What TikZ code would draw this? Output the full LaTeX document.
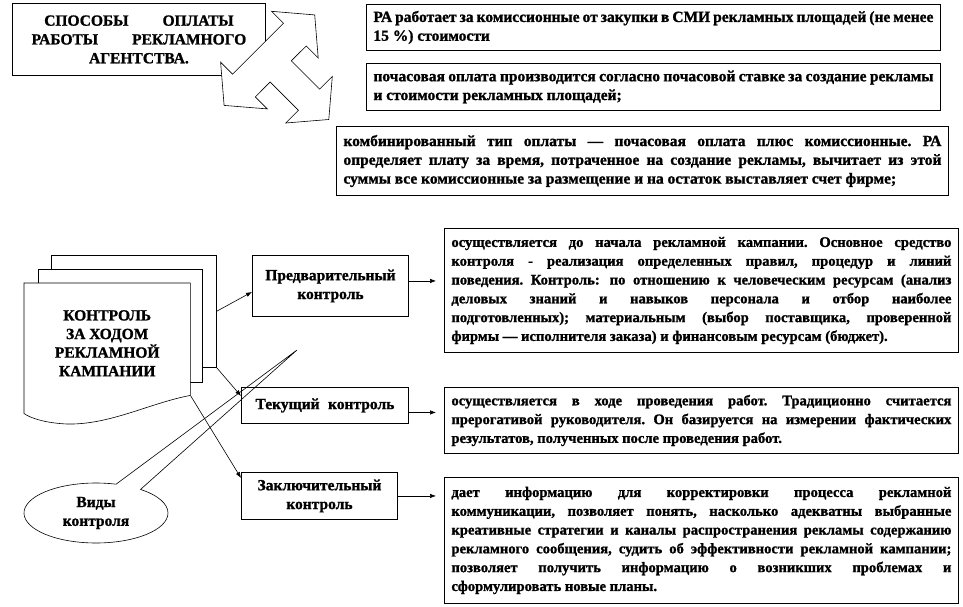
\documentclass[tikz,border=0pt]{standalone}
\usepackage{fontspec}
\setmainfont{Liberation Serif}[BoldFeatures={FakeBold=1.2}]
\usetikzlibrary{arrows.meta, calc, shapes.callouts}
\frenchspacing

\begin{document}
\begin{tikzpicture}[x=1pt, y=-1pt, >={Latex[length=6pt,width=4.5pt]},
  box/.style={draw, line width=0.9pt, anchor=north west, inner xsep=7pt, inner ysep=0pt,
    font=\fontsize{15.5}{18.8}\selectfont\bfseries},
  txt/.style={box, align=justify},
  kind/.style={box, align=center},
  side/.style={txt, text width=500pt, minimum width=513pt,
    font=\fontsize{14.6}{18.8}\selectfont\bfseries},
  page/.style={draw, fill=white, line width=0.6pt, anchor=north west},
  link/.style={->, line width=0.6pt}]
  \useasboundingbox (0,0) rectangle (963,606);

  % способы оплаты
  \node[kind, minimum width=253pt, minimum height=72pt] (head) at (12,3)
    {СПОСОБЫ\hspace{2.2em}ОПЛАТЫ\\РАБОТЫ\hspace{2.2em}РЕКЛАМНОГО\\АГЕНТСТВА.};
  \node[txt, text width=560pt, minimum width=574pt, minimum height=46pt] (rab) at (366,4)
    {РА работает за комиссионные от закупки в СМИ рекламных площадей (не менее\linebreak
     15 \%) стоимости};
  \node[txt, text width=560pt, minimum width=574pt, minimum height=47pt] (pochas) at (366,63)
    {почасовая оплата производится согласно почасовой ставке за создание рекламы\linebreak
     и стоимости рекламных площадей;};
  \node[txt, text width=598pt, minimum width=612pt, minimum height=69pt] (komb) at (336,126)
    {комбинированный тип оплаты — почасовая оплата плюс комиссионные. РА\linebreak
     определяет плату за время, потраченное на создание рекламы, вычитает из этой\linebreak
     суммы все комиссионные за размещение и на остаток выставляет счет фирме;};

  % стрелка на три стороны
  \draw[fill=white, line width=0.6pt] (314.7,14.9) -- (271.5,11.3) -- (283.5,23.3)
    -- (232.6,74.2) -- (220.6,62.2) -- (224.1,105.4) -- (267.3,108.9) -- (255.3,96.9)
    -- (270.1,82.0) -- (298.4,110.3) -- (285.7,123.0) -- (328.8,119.5) -- (332.3,76.4)
    -- (319.6,89.1) -- (291.3,60.8) -- (306.2,46.0) -- (318.2,58.0) -- cycle;

  % контроль
  \node[page, minimum width=165pt, minimum height=112pt] (list3) at (51,255) {};
  \node[page, minimum width=164pt, minimum height=113pt] (list2) at (38,269) {};
  \node[anchor=north west, minimum width=166pt, minimum height=112pt] (doc) at (24,283) {};
  \draw[fill=white, line width=0.6pt] (doc.north west) -- (doc.north east) -- (doc.south east)
    .. controls (150,403) and (110,425) .. (67,424)
    .. controls (45,423) and (30,418) .. ($(doc.south west)+(0,18)$) -- cycle;
  \node[align=center, font=\fontsize{15.5}{18.6}\selectfont\bfseries] (doctext)
    at ($(doc.center)+(0,4)$) {КОНТРОЛЬ\\ЗА ХОДОМ\\РЕКЛАМНОЙ\\КАМПАНИИ};

  \node[kind, minimum width=156pt, minimum height=61pt] (pre) at (252,255)
    {Предварительный\\контроль};
  \node[kind, minimum width=167pt, minimum height=36pt] (cur) at (241,387)
    {Текущий\hspace{0.3em} контроль};
  \node[kind, minimum width=156pt, minimum height=47pt] (fin) at (241,472)
    {Заключительный\\контроль};

  \node[side, minimum height=124pt] (r1) at (444,228)
    {осуществляется до начала рекламной кампании. Основное средство\linebreak
     контроля - реализация определенных правил, процедур и линий\linebreak
     поведения. Контроль:\, по отношению к человеческим ресурсам (анализ\linebreak
     деловых знаний и навыков персонала и отбор наиболее\linebreak
     подготовленных); материальным (выбор поставщика, проверенной\linebreak
     фирмы — исполнителя заказа) и финансовым ресурсам (бюджет).};
  \node[side, minimum height=66pt] (r2) at (444,387)
    {осуществляется в ходе проведения работ. Традиционно считается\linebreak
     прерогативой руководителя. Он базируется на измерении фактических\linebreak
     результатов, полученных после проведения работ.};
  \node[side, minimum height=126pt] (r3) at (444,477)
    {дает информацию для корректировки процесса рекламной\linebreak
     коммуникации, позволяет понять, насколько адекватны выбранные\linebreak
     креативные стратегии и каналы распространения рекламы содержанию\linebreak
     рекламного сообщения, судить об эффективности рекламной кампании;\linebreak
     позволяет получить информацию о возникших проблемах и\linebreak
     сформулировать новые планы.};

  % виды контроля
  \coordinate (tip) at (297,350);
  \node[ellipse callout, draw, line width=0.6pt, minimum width=144pt, minimum height=60pt,
    callout absolute pointer={(tip)}, callout pointer arc=22, align=center,
    font=\fontsize{15.5}{18.8}\selectfont\bfseries] (vid) at (96,513) {Виды\\контроля};

  \draw[link] (list3.east) -- ([yshift=-6pt]pre.west);
  \draw[link] (list3.south east) -- ([yshift=-9pt]cur.north west);
  \draw[link] (doc.south east) -- ([yshift=-6pt]fin.north west);

  \coordinate (a1) at ([yshift=5pt]pre.east);
  \coordinate (a2) at ([yshift=-7pt]cur.east);
  \coordinate (a3) at (fin.east);
  \draw[link, shorten >=8pt] (a1) -- (a1 -| r1.west);
  \draw[link, shorten >=8pt] (a2) -- (a2 -| r2.west);
  \draw[link, shorten >=8pt] (a3) -- (a3 -| r3.west);
\end{tikzpicture}
\end{document}
